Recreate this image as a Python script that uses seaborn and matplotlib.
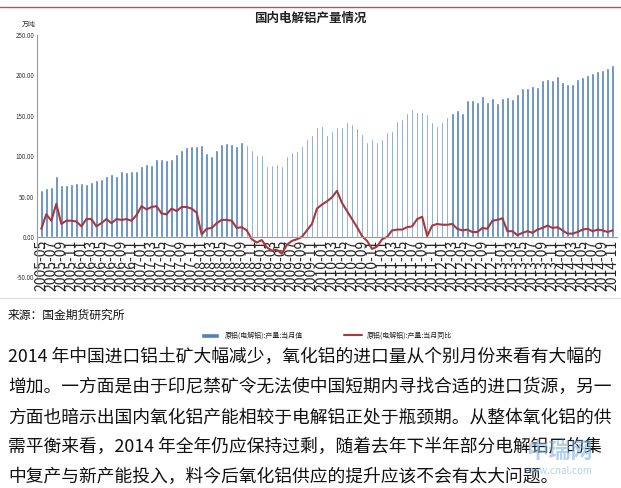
import matplotlib
matplotlib.use("Agg")
import matplotlib.pyplot as plt
import seaborn as sns
import pandas as pd
import numpy as np

sns.set_style("white")
plt.rcParams['font.family'] = ['Noto Sans CJK SC', 'DejaVu Sans']

prod_2005 = [58,60,62,76,64,64,66,67]
prod_2006 = [67,66,68,70,72,75,78,76,81,80,82,82]
prod_2007 = [88,90,89,96,97,95,97,103,108,111,112,113]
prod_2008 = [114,104,100,108,115,116,115,113,117,114,108,102]
prod_2009 = [102,88,89,90,88,100,105,107,113,121,126,136]
prod_2010 = [137,126,131,136,136,142,140,135,128,117,121,117]
prod_2011 = [121,130,131,143,146,154,159,155,155,152,142,138]
prod_2012 = [142,148,154,157,154,169,169,167,175,167,172,166]
prod_2013 = [172,173,171,177,185,184,187,186,195,196,194,199]
prod_2014 = [192,190,190,196,198,200,203,205,207,209,213]

yoy_2005 = [10,28,20,41,16,20,20,19]
yoy_2006 = [13,22,22,13,17,22,17,22,21,22,20,27]
yoy_2007 = [38,34,37,38,29,28,35,32,37,37,35,30]
yoy_2008 = [3,10,11,17,21,21,20,11,12,8,-3,-7]
yoy_2009 = [-4,-13,-17,-16,-21,-10,-5,-3,0,8,16,35]
yoy_2010 = [40,44,49,57,42,32,22,12,1,-5,-15,-12]
yoy_2011 = [-3,0,8,9,9,12,13,22,25,1,14,16]
yoy_2012 = [15,15,16,10,8,9,6,6,11,10,20,21]
yoy_2013 = [23,7,7,2,5,7,5,9,11,14,11,12]
yoy_2014 = [8,4,4,6,9,10,7,9,8,6,8]

prod = prod_2005+prod_2006+prod_2007+prod_2008+prod_2009+prod_2010+prod_2011+prod_2012+prod_2013+prod_2014
yoy = yoy_2005+yoy_2006+yoy_2007+yoy_2008+yoy_2009+yoy_2010+yoy_2011+yoy_2012+yoy_2013+yoy_2014
months = [f"{y}-{m:02d}" for y in range(2005, 2015) for m in range(1, 13)]
months = months[4:4+len(prod)]

df = pd.DataFrame({"month": months, "prod": prod, "yoy": yoy, "pos": range(len(prod))})

fig = plt.figure(figsize=(6.21, 4.88), dpi=100)
ax = fig.add_axes([0.06, 0.432, 0.933, 0.496])
sns.barplot(data=df, x="pos", y="prod", color="#4F81BD", width=0.5, ax=ax, native_scale=True,
            label="原铝(电解铝):产量:当月值", saturation=1)
sns.lineplot(data=df, x="pos", y="yoy", color="#A8383A", linewidth=1.5, ax=ax,
             label="原铝(电解铝):产量:当月同比")
ax.set_ylim(-50, 250)
ax.set_xlim(-0.8, len(prod)-0.2)
ax.set_yticks(np.arange(-50, 251, 50))
ax.set_yticklabels([f"{v:.2f}" for v in np.arange(-50, 251, 50)], fontsize=4.5, color="#333333")
ax.set_xticks(list(range(0, len(prod), 2)), months[::2], fontsize=4.5, color="#333333")
ax.tick_params(axis='x', labelrotation=90)
ax.spines['bottom'].set_position(('data', 0))
for s in ['top', 'right']:
    ax.spines[s].set_visible(False)
ax.spines['left'].set_color('#999999')
ax.spines['bottom'].set_color('#999999')
ax.tick_params(length=0, pad=2)
ax.set_xlabel(""); ax.set_ylabel("")
h, l = ax.get_legend_handles_labels()
order = [l.index("原铝(电解铝):产量:当月值"), l.index("原铝(电解铝):产量:当月同比")]
ax.legend([h[i] for i in order], [l[i] for i in order], loc="upper center",
          bbox_to_anchor=(0.5, -0.2), ncol=2, frameon=False, fontsize=5,
          handlelength=2.5, columnspacing=6)

fig.add_artist(plt.Line2D([0.0, 1.0], [0.985, 0.985], color="#C0504D", lw=1))
fig.text(0.5, 0.962, "国内电解铝产量情况", ha="center", va="center", fontsize=9, color="#222222",
         family=['Noto Sans CJK SC'], fontweight='bold')
fig.text(0.035, 0.945, "万吨", fontsize=5, color="#333333")
fig.add_artist(plt.Line2D([0.0, 1.0], [0.390, 0.390], color="#DDDDDD", lw=0.8))
fig.text(0.013, 0.353, "来源：国金期货研究所", fontsize=8.5, va="center", color="#111111")

lines = ["2014 年中国进口铝土矿大幅减少，氧化铝的进口量从个别月份来看有大幅的",
         "增加。一方面是由于印尼禁矿令无法使中国短期内寻找合适的进口货源，另一",
         "方面也暗示出国内氧化铝产能相较于电解铝正处于瓶颈期。从整体氧化铝的供",
         "需平衡来看，2014 年全年仍应保持过剩，随着去年下半年部分电解铝厂的集",
         "中复产与新产能投入，料今后氧化铝供应的提升应该不会有太大问题。"]
for i, t in enumerate(lines):
    fig.text(0.013, 1 - (357 + 30*i)/488, t, fontsize=12.8, va="center", color="#111111")

fig.text(0.955, 0.075, "中瑞网", fontsize=16, color="#7FB2E0", alpha=0.6, ha="right", va="center",
         fontweight="bold")
fig.text(0.955, 0.035, "www.cnal.com", fontsize=7, color="#7FB2E0", alpha=0.6, ha="right", va="center")

fig.savefig("out.png", dpi=100)
